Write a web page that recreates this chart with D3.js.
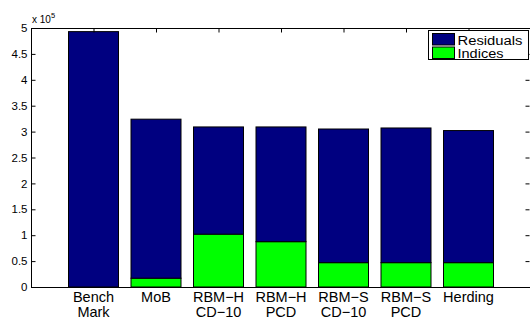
<!DOCTYPE html>
<html>
<head>
<meta charset="utf-8">
<script src="https://cdn.jsdelivr.net/npm/d3@7"></script>
<style>
  html, body { margin: 0; padding: 0; background: #fff; }
  svg { display: block; font-family: "Liberation Sans", Arial, Helvetica, sans-serif; }
</style>
</head>
<body>
<svg id="chart" width="530" height="320"></svg>
<script>
// Category labels (two lines each)
const categories = [
  ["Bench", "Mark"],
  ["MoB"],
  ["RBM\u2212H", "CD\u221210"],
  ["RBM\u2212H", "PCD"],
  ["RBM\u2212S", "CD\u221210"],
  ["RBM\u2212S", "PCD"],
  ["Herding"]
];
// Values in units of 10^5
const indices   = [0.00, 0.17, 1.02, 0.875, 0.47, 0.47, 0.47];
const residuals = [4.93, 3.07, 2.07, 2.215, 2.58, 2.60, 2.55];
const seriesNames = ["Indices", "Residuals"];
const yTicks = [0, 0.5, 1, 1.5, 2, 2.5, 3, 3.5, 4, 4.5, 5];

const colors = { Residuals: "#000080", Indices: "#00ff00" };

const svg = d3.select("#chart");
const plotL = 31, plotR = 531, plotT = 28, plotB = 287;

const x = d3.scaleLinear().domain([0, categories.length + 1]).range([plotL, plotR]);
const y = d3.scaleLinear().domain([0, 5]).range([plotB, plotT]);
const barW = (x(1) - x(0)) * 0.8;

const rows = categories.map((c, i) => ({ i, Indices: indices[i], Residuals: residuals[i] }));
const stacked = d3.stack().keys(seriesNames)(rows);

const g = svg.append("g");
stacked.forEach(layer => {
  g.selectAll(null).data(layer).enter().append("rect")
    .attr("x", d => x(d.data.i + 1) - barW / 2)
    .attr("width", barW)
    .attr("y", d => y(d[1]))
    .attr("height", d => Math.max(0, y(d[0]) - y(d[1])))
    .attr("fill", colors[layer.key])
    .attr("stroke", "#000")
    .attr("stroke-width", 1);
});

// Axes box
const axisG = svg.append("g").attr("stroke", "#000").attr("fill", "none");
axisG.append("rect")
  .attr("x", plotL + 0.5).attr("y", plotT + 0.5)
  .attr("width", plotR - plotL).attr("height", plotB - plotT)
  .attr("stroke-width", 1);

// Left axis with inward ticks
const yAxisL = d3.axisLeft(y).tickValues(yTicks).tickSizeInner(-4).tickSizeOuter(0)
  .tickPadding(4).tickFormat(d3.format("~g"));
const la = svg.append("g").attr("transform", `translate(${plotL + 0.5},0)`).call(yAxisL);
la.select(".domain").remove();
la.selectAll("text").attr("font-size", 11.5).attr("font-family", "Liberation Sans, Arial, sans-serif").attr("fill", "#000");

// Right axis inward ticks (no labels)
const yAxisR = d3.axisRight(y).tickValues(yTicks).tickSizeInner(-4).tickSizeOuter(0).tickFormat("");
const ra = svg.append("g").attr("transform", `translate(${plotR - 1.5},0)`).call(yAxisR);
ra.select(".domain").remove();

// Top ticks at category positions
const catPos = categories.map((c, i) => i + 1);
const xAxisT = d3.axisTop(x).tickValues(catPos).tickSizeInner(-4).tickSizeOuter(0).tickFormat("");
const ta = svg.append("g").attr("transform", `translate(0,${plotT + 0.5})`).call(xAxisT);
ta.select(".domain").remove();

// Bottom category labels
categories.forEach((lines, i) => {
  const t = svg.append("text")
    .attr("x", x(i + 1)).attr("y", 302)
    .attr("text-anchor", "middle").attr("font-size", 14.5).attr("fill", "#000");
  lines.forEach((ln, k) => {
    t.append("tspan").attr("x", x(i + 1)).attr("dy", k === 0 ? 0 : 15).text(ln);
  });
});

// Exponent label
const ex = svg.append("text").attr("x", 32).attr("y", 23).attr("font-size", 10).attr("fill", "#000");
ex.append("tspan").text("x 10");
ex.append("tspan").attr("dy", -5).attr("font-size", 7.5).text("5");

// Legend
const leg = svg.append("g");
leg.append("rect").attr("x", 428.5).attr("y", 30.5).attr("width", 100).attr("height", 29)
  .attr("fill", "#fff").attr("stroke", "#000");
const legendItems = [
  { name: "Residuals", len: 65 },
  { name: "Indices", len: 46 }
];
legendItems.forEach((item, k) => {
  const yy = 33.5 + k * 13.5;
  leg.append("rect").attr("x", 432.5).attr("y", yy).attr("width", 22).attr("height", 11.5)
    .attr("fill", colors[item.name]).attr("stroke", "#000");
  leg.append("text").attr("x", 457.5).attr("y", yy + 11)
    .attr("font-size", 12.5).attr("fill", "#000")
    .attr("textLength", item.len).attr("lengthAdjust", "spacingAndGlyphs")
    .text(item.name);
});
</script>
</body>
</html>
